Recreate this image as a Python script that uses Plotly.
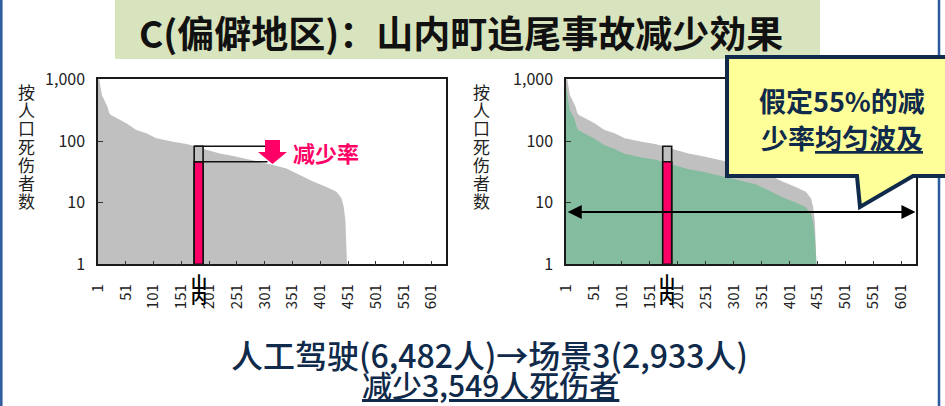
import plotly.graph_objects as go

W, H = 945, 406
FONT = "Noto Sans CJK SC, Noto Sans CJK JP, sans-serif"
NAVY = "#0F2A4A"
PINK = "#FF0066"
GREY = "#C0C0C0"
GREEN = "#83BC9E"

# Municipalities ranked by casualties per population (sampled ranks)
rank = [1, 3, 5, 8, 11, 15, 18, 21, 24, 32, 46, 52, 70, 88, 106, 120, 136, 160,
        175, 196, 220, 244, 280, 316, 340, 364, 388, 412, 430, 439, 443, 446, 448, 449]
manual = [1500, 1000, 800, 556, 490, 433, 360, 288, 264, 242, 205, 194, 151, 133, 111,
          104, 97, 89, 83, 72, 63, 57, 49, 41, 36, 28, 22, 18, 15, 11.8, 8.6, 5.2, 2.2, 1]
scenario3 = [840, 560, 450, 310, 275, 243, 200, 160, 148, 135, 115, 109, 85, 74, 62,
             58, 54, 50, 46, 40, 35, 32, 27, 23, 20, 15.7, 12.3, 10.1, 8.4, 6.6, 4.8, 2.9, 1.2, 1]

# Yamauchi town
town_rank = 182
town_manual = 82
town_scenario3 = 46
town_halfwidth = 8
bracket_end = 306
spread_level = 7.07

x_ticks = list(range(1, 602, 50))
x_ticktext = [str(v) for v in x_ticks]
y_ticks = [1, 10, 100, 1000]
y_ticktext = ["1", "10", "100", "1,000"]


def px(x):
    return x / W


def py(y):
    return 1 - y / H


def path(points):
    return "M " + " L ".join(f"{px(x):.5f},{py(y):.5f}" for x, y in points) + " Z"


fig = go.Figure()

for xa, ya, show_green in (("x", "y", False), ("x2", "y2", True)):
    fig.add_trace(go.Scatter(x=rank, y=manual, mode="lines", line=dict(width=0),
                             fill="tozeroy", fillcolor=GREY, xaxis=xa, yaxis=ya,
                             hoverinfo="skip", showlegend=False))
    if show_green:
        fig.add_trace(go.Scatter(x=rank, y=scenario3, mode="lines", line=dict(width=0),
                                 fill="tozeroy", fillcolor=GREEN, xaxis=xa, yaxis=ya,
                                 hoverinfo="skip", showlegend=False))
    x0, x1 = town_rank - town_halfwidth, town_rank + town_halfwidth
    for val, col in ((town_manual, GREY), (town_scenario3, PINK)):
        fig.add_trace(go.Scatter(x=[x0, x1, x1, x0, x0], y=[1, 1, val, val, 1],
                                 mode="lines", fill="toself", fillcolor=col,
                                 line=dict(color="#111111", width=1.6),
                                 xaxis=xa, yaxis=ya, hoverinfo="skip", showlegend=False))

# reduction bracket on the left panel
for val in (town_manual, town_scenario3):
    fig.add_trace(go.Scatter(x=[town_rank - town_halfwidth, bracket_end], y=[val, val],
                             mode="lines", line=dict(color="#111111", width=1.6),
                             xaxis="x", yaxis="y", hoverinfo="skip", showlegend=False))

axis_common = dict(showgrid=False, zeroline=False, showline=True, mirror=True,
                   linecolor="#1a1a1a", linewidth=1.5, ticks="inside",
                   tickcolor="#333333", automargin=False)
xcommon = dict(axis_common, range=[1, 627], tickvals=x_ticks, ticktext=x_ticktext,
               tickangle=-90, ticklen=4, ticklabelstandoff=12,
               tickfont=dict(family=FONT, size=15, color="#222222"))
ycommon = dict(axis_common, type="log", range=[0, 3], tickvals=y_ticks,
               ticktext=y_ticktext, ticklen=5, ticklabelstandoff=8,
               tickfont=dict(family=FONT, size=16, color="#222222"))

y_dom = [py(264.4), py(79.3)]
fig.update_layout(
    width=W, height=H, autosize=False,
    margin=dict(l=0, r=0, t=0, b=0, pad=0, autoexpand=False),
    paper_bgcolor="white", plot_bgcolor="white",
    xaxis=dict(xcommon, domain=[px(98), px(446)], anchor="y"),
    yaxis=dict(ycommon, domain=y_dom, anchor="x"),
    xaxis2=dict(xcommon, domain=[px(566), px(916)], anchor="y2"),
    yaxis2=dict(ycommon, domain=y_dom, anchor="x2"),
)

shapes = []
# slide border lines
shapes.append(dict(type="line", xref="paper", yref="paper", x0=px(1.3), x1=px(1.3),
                   y0=0, y1=1, line=dict(color="#2B5A9E", width=2.5)))
shapes.append(dict(type="line", xref="paper", yref="paper", x0=px(939), x1=px(939),
                   y0=0, y1=1, line=dict(color="#2B5A9E", width=2.5)))
# title band
shapes.append(dict(type="rect", xref="paper", yref="paper", x0=px(115), x1=px(820),
                   y0=py(59), y1=py(0), fillcolor="#D8E4BD", line=dict(width=0)))
# white patch behind the town label
for xa in ("x", "x2"):
    shapes.append(dict(type="rect", xref=xa, yref="paper", x0=town_rank - 12,
                       x1=town_rank + 12, y0=py(304), y1=py(272),
                       fillcolor="white", line=dict(width=0)))
# pink block arrow
shapes.append(dict(type="path", xref="paper", yref="paper",
                   path=path([(265, 140), (280, 140), (280, 152), (287, 152),
                              (272.5, 164), (258, 152), (265, 152)]),
                   fillcolor=PINK, line=dict(width=0)))
# callout balloon
shapes.append(dict(type="path", xref="paper", yref="paper",
                   path=path([(727, 57), (950, 57), (950, 176), (913, 176),
                              (860, 207), (857, 176), (727, 176)]),
                   fillcolor="#FFFF99", line=dict(color=NAVY, width=4)))
fig.update_layout(shapes=shapes)


def label(x, y, text, size, color, **kw):
    font = dict(family=FONT, size=size, color=color)
    font.update(kw.pop("font_extra", {}))
    d = dict(xref="paper", yref="paper", x=px(x), y=py(y), text=text,
             showarrow=False, xanchor="center", yanchor="middle", font=font)
    d.update(kw)
    return d


ann = []
ann.append(label(461, 32, "<b>C(偏僻地区)：山内町追尾事故减少効果</b>", 37, "#111111"))
# vertical y-axis titles
for cx in (26.5, 481.5):
    for i, ch in enumerate("按人口死伤者数"):
        ann.append(label(cx, 91.5 + 18.2 * i, ch, 17, "#222222"))
# town label under the highlighted bar
for xa in ("x", "x2"):
    for i, ch in enumerate("山内"):
        ann.append(dict(xref=xa, yref="paper", x=town_rank, y=py(280.5 + 15 * i),
                        xanchor="center", yanchor="middle",
                        text=f"<b>{ch}</b>", showarrow=False,
                        font=dict(family=FONT, size=16, color="#000000")))
ann.append(label(291, 152, "<b>减少率</b>", 22, PINK, xanchor="left"))
# uniform spread arrow
ann.append(dict(xref="x2", yref="y2", x=626, y=0.8494, ax=1.5, ay=0.8494,
                axref="x2", ayref="y2", text="", showarrow=True,
                arrowhead=2, startarrowhead=2, arrowside="end+start",
                arrowsize=1.4, startarrowsize=1.4, arrowwidth=2, arrowcolor="#000000",
                standoff=0, startstandoff=0))
ann.append(label(842, 101, "<b>假定55%的减</b>", 27, NAVY))
ann.append(label(842, 137, "<b>少率<u>均匀波及</u></b>", 27, NAVY))
ann.append(label(489, 354, "人工驾驶(6,482人)→场景3(2,933人)", 32, NAVY,
                 font_extra=dict(weight=500)))
ann.append(label(490, 384, "<u>减少3,549人死伤者</u>", 30, NAVY,
                 font_extra=dict(weight=500)))
fig.update_layout(annotations=ann)

fig.write_html("out.html",
               post_script="document.body.style.margin='0';document.body.style.padding='0';")
